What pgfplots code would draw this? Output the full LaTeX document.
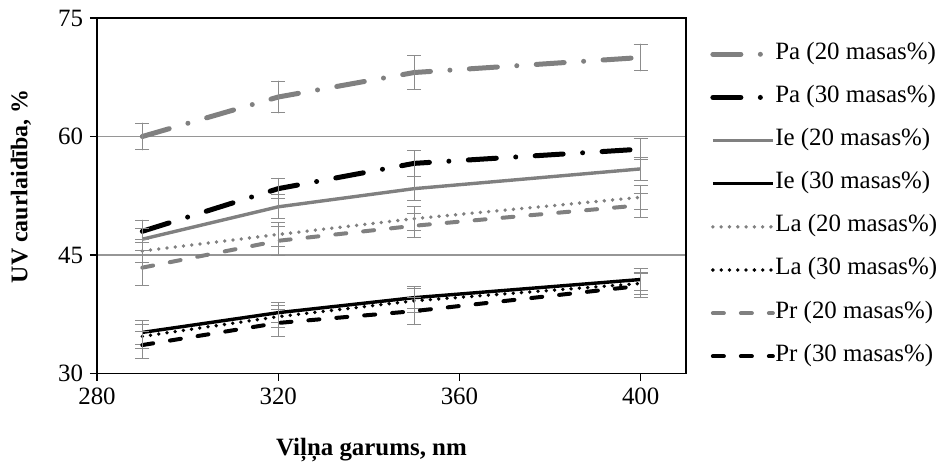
\documentclass[border=0pt]{standalone}
\usepackage{pgfplots}
\pgfplotsset{compat=1.18}
\usetikzlibrary{calc}
\usepackage{fontspec}
\setmainfont{Liberation Serif}
\definecolor{sg}{RGB}{128,128,128}
\definecolor{gridg}{RGB}{150,150,150}
\definecolor{errg}{RGB}{140,140,140}
\begin{document}
\begin{tikzpicture}
\begin{axis}[
  name=ax,
  scale only axis,
  width=294.5bp, height=177.75bp,
  xmin=280, xmax=410, ymin=30, ymax=75,
  xtick={280,320,360,400}, ytick={30,45,60,75},
  tick pos=left, tick align=outside,
  major tick length=3.5bp,
  axis line style={line width=0.6bp},
  every tick/.style={black, line width=0.6bp},
  ymajorgrids, grid style={gridg, line width=0.7bp},
  /pgf/number format/assume math mode=true,
  tick label style={font=\fontsize{12.5}{14}\selectfont},
  xlabel={\bfseries Viļņa garums, nm},
  ylabel={\bfseries UV caurlaidība, \%},
  xlabel style={font=\fontsize{12.5}{14}\selectfont, at={(axis description cs:0.466,-0.215)}, anchor=center},
  ylabel style={font=\fontsize{12}{14}\selectfont, at={(axis description cs:-0.129,0.526)}, anchor=center, rotate=0},
  legend style={draw=none, fill=none, inner sep=0pt, at={(axis description cs:1.0407,0.93)}, anchor=north west,
     font=\fontsize{12.5}{14}\selectfont, row sep=10.57bp,
     nodes={inner sep=0pt, text height=8bp, text depth=3bp},
     /tikz/every even column/.append style={column sep=2bp}},
  legend cell align=left,
  legend image code/.code={\draw[#1] (0bp,0bp) -- (30bp,0bp);},
  error bars/y dir=both, error bars/y explicit,
  error bars/error bar style={line width=0.5bp, errg, solid},
  error bars/error mark options={rotate=90, mark size=3.5bp, line width=0.5bp, errg, solid},
]
% Pa 20
\addplot[sg, line width=2.5bp, line cap=round, dash pattern=on 14bp off 9.75bp on 0bp off 9.75bp, mark=none]
 coordinates {(290,60.0) +- (0,1.7) (320,65.0) +- (0,2.0) (350,68.1) +- (0,2.1) (400,70.0) +- (0,1.7)};
\addlegendentry{Pa (20 masas\%)}
% Pa 30
\addplot[black, line width=2.5bp, line cap=round, dash pattern=on 14bp off 9.75bp on 0bp off 9.75bp, mark=none]
 coordinates {(290,48.0) +- (0,1.4) (320,53.4) +- (0,1.3) (350,56.6) +- (0,1.6) (400,58.4) +- (0,1.3)};
\addlegendentry{Pa (30 masas\%)}
% Ie 20
\addplot[sg, line width=1.7bp, mark=none]
 coordinates {(290,47.0) +- (0,1.4) (320,51.1) +- (0,1.5) (350,53.4) +- (0,1.5) (400,55.9) +- (0,1.5)};
\addlegendentry{Ie (20 masas\%)}
% Ie 30
\addplot[black, line width=1.7bp, mark=none]
 coordinates {(290,35.2) +- (0,1.5) (320,37.7) +- (0,1.3) (350,39.6) +- (0,1.4) (400,41.9) +- (0,1.4)};
\addlegendentry{Ie (30 masas\%)}
% La 20
\addplot[sg, line width=1.9bp, line cap=round, dash pattern=on 0bp off 4.15bp, mark=none]
 coordinates {(290,45.5) +- (0,1.5) (320,47.6) +- (0,1.5) (350,49.6) +- (0,1.5) (400,52.3) +- (0,1.5)};
\addlegendentry{La (20 masas\%)}
% La 30
\addplot[black, line width=1.9bp, line cap=round, dash pattern=on 0bp off 4.15bp, mark=none]
 coordinates {(290,34.7) +- (0,1.5) (320,37.2) +- (0,1.4) (350,39.2) +- (0,1.5) (400,41.4) +- (0,1.4)};
\addlegendentry{La (30 masas\%)}
% Pr 20
\addplot[sg, line width=2bp, line cap=round, dash pattern=on 5.5bp off 8.5bp, mark=none]
 coordinates {(290,43.4) +- (0,2.2) (320,46.8) +- (0,1.8) (350,48.7) +- (0,1.5) (400,51.3) +- (0,1.5)};
\addlegendentry{Pr (20 masas\%)}
% Pr 30
\addplot[black, line width=2bp, line cap=round, dash pattern=on 5.5bp off 8.5bp, mark=none]
 coordinates {(290,33.6) +- (0,1.7) (320,36.4) +- (0,1.7) (350,37.9) +- (0,1.7) (400,41.1) +- (0,1.5)};
\addlegendentry{Pr (30 masas\%)}
\end{axis}
\pgfresetboundingbox
\path[use as bounding box] ($(ax.south west)+(-48.5bp,-46.25bp)$) rectangle ($(ax.south west)+(425bp,186.75bp)$);
\end{tikzpicture}
\end{document}
